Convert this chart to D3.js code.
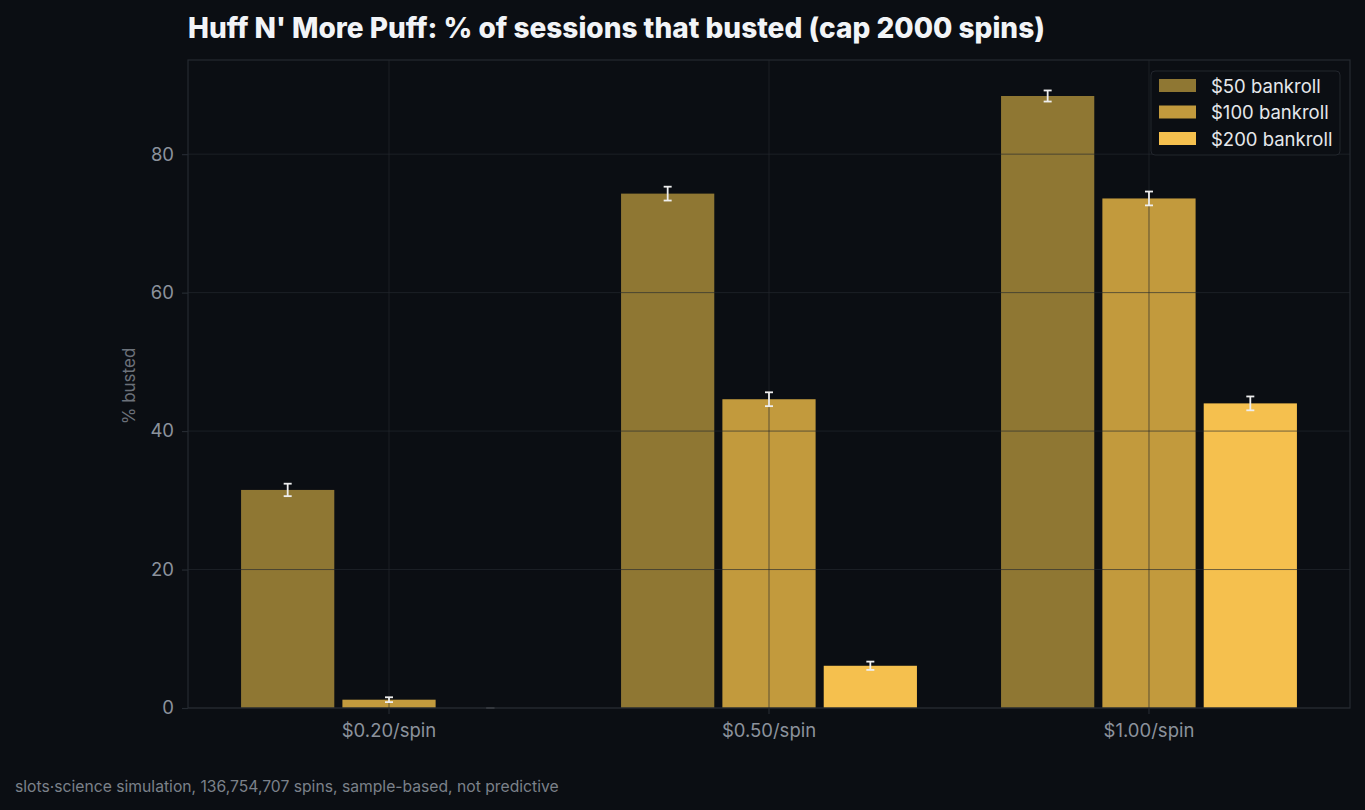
<!DOCTYPE html>
<html lang="en">
<head>
    <meta charset="UTF-8">
    <title>Huff N' More Puff bust rate</title>
    <script src="https://d3js.org/d3.v7.min.js"></script>
</head>

<style type="text/css">
    html, body {
        margin: 0;
        padding: 0;
        background-color: #0b0e13;
    }
    svg text {
        font-family: Inter, "Noto Sans", sans-serif;
    }
</style>
<body>
<div id="chart"></div>

<script>
    // data
    var categories = ["$0.20/spin", "$0.50/spin", "$1.00/spin"];
    var series = ["$50 bankroll", "$100 bankroll", "$200 bankroll"];
    var bust50 = [31.5, 74.3, 88.4];
    var bust100 = [1.2, 44.6, 73.6];
    var bust200 = [0.0, 6.1, 44.0];
    var err50 = [0.9, 1.0, 0.8];
    var err100 = [0.35, 1.0, 1.0];
    var err200 = [0.0, 0.6, 1.0];
    var yTicks = [0, 20, 40, 60, 80];
    var colors = ["#8f7733", "#c29a3d", "#f5c04e"];

    var W = 1365, H = 810;
    var mLeft = 188, mTop = 60, mRight = 1350, mBottom = 708;
    var gridColor = "rgba(37,41,48,0.65)";
    var spineColor = "#252a31";
    var tickColor = "#8b929c";

    var values = [bust50, bust100, bust200];
    var errs = [err50, err100, err200];
    var rows = [];
    series.forEach(function (s, si) {
        categories.forEach(function (c, ci) {
            rows.push({series: s, si: si, cat: c, v: values[si][ci], e: errs[si][ci]});
        });
    });

    var svg = d3.select("#chart").append("svg")
        .attr("width", W).attr("height", H);

    svg.append("rect").attr("width", W).attr("height", H).style("fill", "#0b0e13");

    var x = d3.scaleBand().domain(categories).range([mLeft, mRight]).paddingInner(0).paddingOuter(0.029);
    var x1 = d3.scaleBand().domain(series).range([x.bandwidth() * 0.1, x.bandwidth() * 0.9]);
    var barW = x1.bandwidth() * 0.92;
    var y = d3.scaleLinear().domain([0, 93.6]).range([mBottom, mTop]);

    // bars
    svg.append("g").selectAll("rect").data(rows).enter()
        .append("rect")
        .attr("x", function (d) { return x(d.cat) + x1(d.series) + (x1.bandwidth() - barW) / 2; })
        .attr("y", function (d) { return y(d.v); })
        .attr("width", barW)
        .attr("height", function (d) { return y(0) - y(d.v); })
        .style("fill", function (d) { return colors[d.si]; });

    // grid on top of bars
    var grid = svg.append("g");
    grid.selectAll(".hg").data(yTicks).enter().append("line")
        .attr("x1", mLeft).attr("x2", mRight)
        .attr("y1", function (d) { return y(d); }).attr("y2", function (d) { return y(d); })
        .style("stroke", gridColor).style("stroke-width", 1);
    grid.selectAll(".vg").data(categories).enter().append("line")
        .attr("x1", function (d) { return x(d) + x.bandwidth() / 2; })
        .attr("x2", function (d) { return x(d) + x.bandwidth() / 2; })
        .attr("y1", mTop).attr("y2", mBottom)
        .style("stroke", gridColor).style("stroke-width", 1);

    // error bars
    var eb = svg.append("g").selectAll("g").data(rows).enter().append("g")
        .style("stroke", function (d) { return d.v > 0 ? "#eeeeee" : "#4a4d52"; })
        .style("stroke-width", 1.8);
    function cx(d) { return x(d.cat) + x1(d.series) + x1.bandwidth() / 2; }
    eb.append("line")
        .attr("x1", cx).attr("x2", cx)
        .attr("y1", function (d) { return y(d.v - d.e); })
        .attr("y2", function (d) { return y(d.v + d.e); });
    eb.append("line")
        .attr("x1", function (d) { return cx(d) - 4; }).attr("x2", function (d) { return cx(d) + 4; })
        .attr("y1", function (d) { return y(d.v + d.e); }).attr("y2", function (d) { return y(d.v + d.e); });
    eb.append("line")
        .attr("x1", function (d) { return cx(d) - 4; }).attr("x2", function (d) { return cx(d) + 4; })
        .attr("y1", function (d) { return y(d.v - d.e); }).attr("y2", function (d) { return y(d.v - d.e); });

    // frame
    svg.append("rect")
        .attr("x", mLeft).attr("y", mTop)
        .attr("width", mRight - mLeft).attr("height", mBottom - mTop)
        .style("fill", "none").style("stroke", spineColor).style("stroke-width", 1.2);

    // axes
    var yAxis = svg.append("g").attr("transform", "translate(" + mLeft + ",0)")
        .call(d3.axisLeft(y).tickValues(yTicks).tickSize(6).tickPadding(8));
    var xAxis = svg.append("g").attr("transform", "translate(0," + mBottom + ")")
        .call(d3.axisBottom(x).tickSize(6).tickPadding(10));
    [yAxis, xAxis].forEach(function (a) {
        a.select(".domain").remove();
        a.selectAll(".tick line").style("stroke", spineColor).style("stroke-width", 1.2);
        a.selectAll(".tick text").style("fill", tickColor).style("font-size", "18.5px")
            .style("font-family", "Inter, sans-serif");
    });

    svg.append("text")
        .attr("transform", "translate(135," + ((mTop + mBottom) / 2 + 2) + ") rotate(-90)")
        .attr("text-anchor", "middle")
        .style("fill", "#6b717a").style("font-size", "17px")
        .text("% busted");

    // title
    svg.append("text")
        .attr("x", mLeft).attr("y", 38)
        .style("fill", "#f2f4f7").style("font-size", "28px").style("font-weight", 800)
        .text("Huff N' More Puff: % of sessions that busted (cap 2000 spins)");

    // legend
    var lg = svg.append("g").attr("transform", "translate(1151,71)");
    lg.append("rect").attr("width", 189).attr("height", 84).attr("rx", 4)
        .style("fill", "#0b0e13").style("stroke", "#22262d").style("stroke-width", 1);
    var li = lg.selectAll(".li").data(series).enter().append("g")
        .attr("transform", function (d, i) { return "translate(8," + (8 + i * 26.5) + ")"; });
    li.append("rect").attr("width", 37).attr("height", 13)
        .style("fill", function (d, i) { return colors[i]; });
    li.append("text").attr("x", 52).attr("y", 13.5)
        .style("fill", "#e6e8eb").style("font-size", "18.5px")
        .text(function (d) { return d; });

    // footnote
    svg.append("text")
        .attr("x", 15).attr("y", 792)
        .style("fill", "#7b818a").style("font-size", "15.7px")
        .text("slots\u00b7science simulation, 136,754,707 spins, sample-based, not predictive");
</script>

</body>
</html>
